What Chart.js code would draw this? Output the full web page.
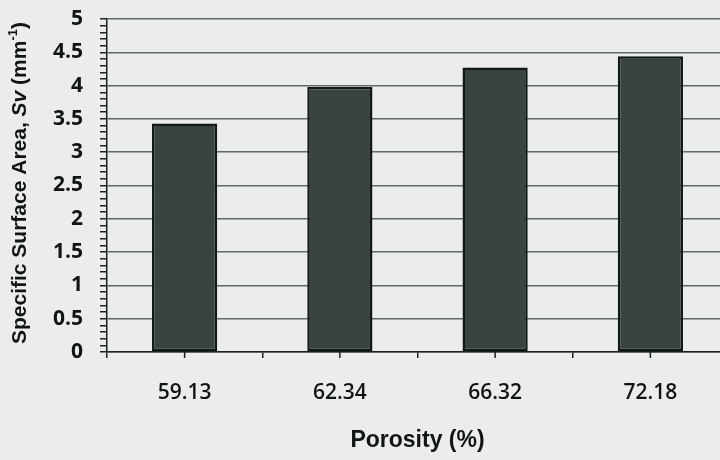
<!DOCTYPE html>
<html>
<head>
<meta charset="utf-8">
<script src="https://cdn.jsdelivr.net/npm/chart.js@4"></script>
<style>
  html, body { margin: 0; padding: 0; overflow: hidden; background: #eaeced; }
  canvas { display: block; }
</style>
</head>
<body>
<canvas id="surfaceChart" width="728" height="460"></canvas>
<script>
// porosity categories and measured specific surface area
const porosity = ['59.13', '62.34', '66.32', '72.18'];
const surfaceArea = [3.43, 3.98, 4.27, 4.44];

// y axis: labelled every 0.5, minor marks every 0.1
const yMax = 5;
const yLabelStep = 0.5;
const yMinorStep = 0.1;

const xTitle = 'Porosity (%)';
// y title pieces: [text, style]
const yTitleParts = [
  ['Specific Surface Area, ', ''],
  ['Sv', 'italic '],
  [' (mm', ''],
  ['-1', 'sup'],
  [')', '']
];

const textColor = '#111414';
const axisColor = '#1d2222';
const gridColor = '#5f6a67';

const isMajor = v => Math.abs(v / yLabelStep - Math.round(v / yLabelStep)) < 1e-6;

// short tick marks under each bar centre (the axis grid only marks the boundaries)
const centreTicks = {
  id: 'centreTicks',
  afterDatasetsDraw(chart) {
    const { ctx, chartArea, scales: { x } } = chart;
    ctx.save();
    ctx.strokeStyle = axisColor;
    ctx.lineWidth = 1.5;
    porosity.forEach((p, i) => {
      const px = x.getPixelForValue(i);
      ctx.beginPath();
      ctx.moveTo(px, chartArea.bottom);
      ctx.lineTo(px, chartArea.bottom + 6);
      ctx.stroke();
    });
    ctx.restore();
  }
};

// rotated y title with italic symbol and superscript unit
const yTitle = {
  id: 'yTitle',
  afterDraw(chart) {
    const { ctx } = chart;
    const fontFor = s => s === 'sup'
      ? 'bold 13px "Liberation Sans", Arial, sans-serif'
      : s + 'bold 21px "Liberation Sans", Arial, sans-serif';
    ctx.save();
    ctx.translate(20, 183);
    ctx.rotate(-Math.PI / 2);
    let total = 0;
    yTitleParts.forEach(([t, s]) => { ctx.font = fontFor(s); total += ctx.measureText(t).width; });
    let x = -total / 2;
    ctx.fillStyle = textColor;
    ctx.textBaseline = 'middle';
    yTitleParts.forEach(([t, s]) => {
      ctx.font = fontFor(s);
      ctx.fillText(t, x, s === 'sup' ? -7 : 0);
      x += ctx.measureText(t).width;
    });
    ctx.restore();
  }
};

new Chart(document.getElementById('surfaceChart'), {
  type: 'bar',
  data: {
    labels: porosity,
    datasets: [{
      data: surfaceArea,
      backgroundColor: '#394442',
      borderColor: '#121717',
      borderWidth: 2.5,
      borderSkipped: false,
      barPercentage: 0.42,
      categoryPercentage: 1
    }]
  },
  options: {
    responsive: false,
    animation: false,
    layout: { padding: { top: 19, right: 0, bottom: 0, left: 0 } },
    plugins: { legend: { display: false }, tooltip: { enabled: false } },
    scales: {
      x: {
        afterFit(scale) { scale.height = 108; },
        border: { color: axisColor, width: 1.5 },
        grid: { drawOnChartArea: false, tickLength: 6, tickColor: axisColor, lineWidth: 1.5 },
        ticks: { padding: 22, color: textColor, font: { family: '"Open Sans"', size: 21, weight: '600' } },
        title: {
          display: true,
          text: xTitle,
          color: textColor,
          font: { family: '"Liberation Sans", Arial, sans-serif', size: 23, weight: 'bold' },
          padding: { top: 0, bottom: 6 }
        }
      },
      y: {
        min: 0,
        max: yMax,
        afterFit(scale) {
          scale.width = 107;
          // labels may hang over the top edge, keep the plot top where the padding puts it
          scale.paddingTop = 0;
          scale.paddingBottom = 0;
        },
        border: { color: axisColor, width: 1.5 },
        grid: {
          color: c => isMajor(c.tick.value) ? gridColor : 'rgba(0,0,0,0)',
          tickColor: axisColor,
          tickLength: 7,
          lineWidth: 1.5
        },
        ticks: {
          stepSize: yMinorStep,
          autoSkip: false,
          maxTicksLimit: 100,
          padding: 17,
          color: textColor,
          font: { family: '"Open Sans"', size: 21, weight: '700' },
          callback: v => isMajor(v) ? String(Number(v.toFixed(1))) : ''
        }
      }
    }
  },
  plugins: [centreTicks, yTitle]
});
</script>
</body>
</html>
